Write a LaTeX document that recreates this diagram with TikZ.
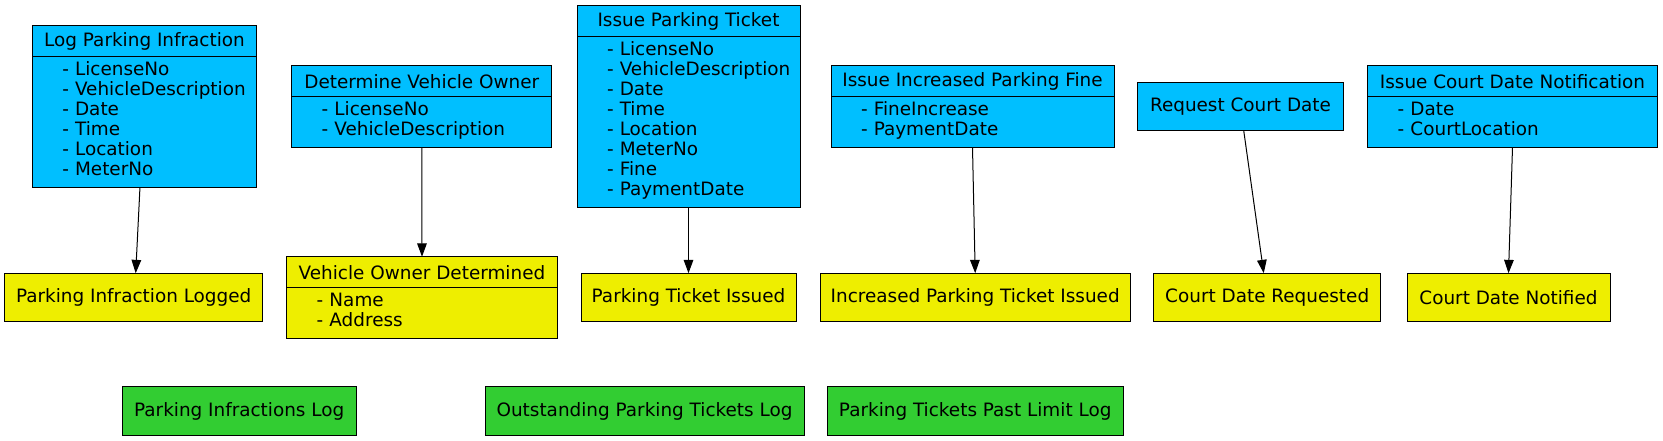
\documentclass[tikz,border=0pt]{standalone}
\usepackage{fontspec}
\newfontfamily\dejavu{DejaVu Sans}
\usetikzlibrary{positioning,arrows.meta}
\definecolor{actionblue}{HTML}{00BFFF}
\definecolor{eventyellow}{HTML}{EEEE00}
\definecolor{storegreen}{HTML}{32CD32}

\begin{document}
\begin{tikzpicture}[x=0.75pt,y=-0.75pt,
  box/.style={draw=black, line width=0.75pt, inner sep=0pt, outer sep=0pt,
    font=\dejavu\fontsize{13.8}{15}\selectfont},
  action/.style={box, fill=actionblue, minimum height=23.25pt},
  event/.style={box, fill=eventyellow, minimum height=36pt},
  store/.style={box, fill=storegreen, minimum height=36pt},
  fields/.style={box, text width=#1, align=left,
    execute at begin node={\leftskip=22.5pt\relax},
    execute at end node={\strut}},
  flow/.style={line width=0.75pt, -{Triangle[length=10pt,width=7.2pt]}}]
\useasboundingbox (0,0) rectangle (1663,441);

% commands
\node at (144.5,41.2) (lpih)[action, minimum width=168.3pt] {Log Parking Infraction};
\node (lpi)[fields=168.3pt, fill=actionblue, minimum height=97.95pt, below=0pt of lpih]
  {-~LicenseNo\\-~VehicleDescription\\-~Date\\-~Time\\-~Location\\-~MeterNo};

\node at (421.8,81.2) (dvoh)[action, minimum width=195.2pt] {Determine Vehicle Owner};
\node (dvo)[fields=195.2pt, fill=actionblue, minimum height=37.95pt, below=0pt of dvoh]
  {-~LicenseNo\\-~VehicleDescription};

\node at (688.5,21.2) (ipth)[action, minimum width=167.25pt] {Issue Parking Ticket};
\node (ipt)[fields=167.25pt, fill=actionblue, minimum height=127.95pt, below=0pt of ipth]
  {-~LicenseNo\\-~VehicleDescription\\-~Date\\-~Time\\-~Location\\-~MeterNo\\-~Fine\\-~PaymentDate};

\node at (972.5,81.2) (iipfh)[action, minimum width=212.25pt] {Issue Increased Parking Fine};
\node (iipf)[fields=212.25pt, fill=actionblue, minimum height=37.95pt, below=0pt of iipfh]
  {-~FineIncrease\\-~PaymentDate};

\node at (1240.5,106.5) (rcd)[action, minimum width=154.2pt, minimum height=36pt] {Request Court Date};

\node at (1512.5,81.2) (icdnh)[action, minimum width=217.2pt] {Issue Court Date Notification};
\node (icdn)[fields=217.2pt, fill=actionblue, minimum height=37.95pt, below=0pt of icdnh]
  {-~Date\\-~CourtLocation};

% events
\node at (133.7,297.2) (pil)[event, minimum width=193.5pt] {Parking Infraction Logged};

\node at (422,272.2) (vodh)[action, fill=eventyellow, minimum width=202.95pt] {Vehicle Owner Determined};
\node (vod)[fields=202.95pt, fill=eventyellow, minimum height=37.95pt, below=0pt of vodh]
  {-~Name\\-~Address};

\node at (688.5,297.2) (pti)[event, minimum width=161.25pt] {Parking Ticket Issued};
\node at (975.2,297.2) (ipti)[event, minimum width=232.3pt] {Increased Parking Ticket Issued};
\node at (1267.2,297.2) (cdr)[event, minimum width=170.25pt] {Court Date Requested};
\node at (1508.5,297.2) (cdn)[event, minimum width=152.25pt] {Court Date Notified};

% logs
\node at (239.2,411) (pilog)[store, minimum width=175.3pt] {Parking Infractions Log};
\node at (644.5,411) (optlog)[store, minimum width=239.25pt] {Outstanding Parking Tickets Log};
\node at (975.2,411) (ptpllog)[store, minimum width=222.2pt] {Parking Tickets Past Limit Log};

% flows
\draw[flow] ([xshift=-3.4pt]lpi.south) -- ([xshift=1.5pt]pil.north);
\draw[flow] (dvo.south) -- (vodh.north);
\draw[flow] (ipt.south) -- (pti.north);
\draw[flow] (iipf.south) -- (ipti.north);
\draw[flow] ([xshift=2.4pt]rcd.south) -- ([xshift=-2.6pt]cdr.north);
\draw[flow] (icdn.south) -- (cdn.north);

\end{tikzpicture}
\end{document}
